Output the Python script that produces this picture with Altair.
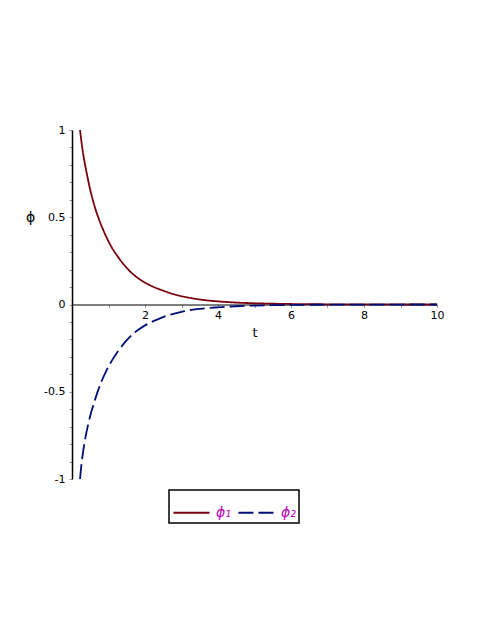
import altair as alt
import pandas as pd

# phi_1 curve
t1 = [0.22, 0.28, 0.35, 0.42, 0.485, 0.55, 0.62, 0.74, 0.85, 1.0, 1.08, 1.25, 1.44, 1.65, 1.9,
      2.2, 2.49, 2.8, 3.18, 3.6, 4.0, 4.5, 5.0, 5.5, 6.0, 7.0, 8.0, 9.0, 10.0]
phi1 = [1.0, 0.90, 0.81, 0.735, 0.67, 0.615, 0.562, 0.488, 0.43, 0.362, 0.330, 0.276, 0.224, 0.178, 0.138,
        0.104, 0.080, 0.058, 0.04, 0.026, 0.018, 0.011, 0.007, 0.0045, 0.0028, 0.0011, 0.0004, 0.00015, 0.00005]

# phi_2 curve
t2 = [0.22, 0.26, 0.30, 0.37, 0.44, 0.53, 0.62, 0.71, 0.80, 0.94, 1.08, 1.28, 1.49, 1.72,
      1.99, 2.28, 2.59, 3.0, 3.41, 4.0, 4.5, 5.0, 6.0, 7.0, 8.0, 9.0, 10.0]
phi2 = [-1.0, -0.915, -0.85, -0.76, -0.69, -0.615, -0.553, -0.495, -0.445, -0.38, -0.326, -0.262, -0.207, -0.160,
        -0.121, -0.091, -0.065, -0.042, -0.027, -0.016, -0.01, -0.006, -0.0024, -0.001, -0.0004, -0.00015, -0.00005]

names = ["\u03d5\u2081", "\u03d5\u2082"]
colors = ["#78000E", "#000E78"]
dashes = [[1, 0], [15, 5]]

x_ticks = list(range(1, 11))
y_ticks = [round(-1 + 0.1 * i, 1) for i in range(21)]

df = pd.concat([
    pd.DataFrame({"t": t1, "phi": phi1, "s": names[0], "o": list(range(len(t1)))}),
    pd.DataFrame({"t": t2, "phi": phi2, "s": names[1], "o": list(range(len(t2)))}),
])

W, H = 365, 349
FONT = "DejaVu Sans"

chart = alt.Chart(df).mark_line(strokeWidth=1.8, interpolate="monotone").encode(
    x=alt.X("t:Q", scale=alt.Scale(domain=[0, 10], nice=False),
            axis=alt.Axis(orient="bottom", offset=-H / 2, values=x_ticks,
                          labelExpr="datum.value % 2 == 0 ? datum.label : ''",
                          labelFlush=False, labelOverlap=False,
                          title="t", titleFont=FONT, titleFontSize=13, titleFontWeight="normal",
                          titleY=32, titleBaseline="alphabetic",
                          domainColor="black", domainWidth=1.2, tickColor="#999999", tickSize=3,
                          labelFont=FONT, labelFontSize=11, labelColor="black", labelPadding=2,
                          grid=False)),
    y=alt.Y("phi:Q", scale=alt.Scale(domain=[-1, 1], nice=False),
            axis=alt.Axis(values=y_ticks, labelFlush=False, labelOverlap=False,
                          labelExpr="datum.value == 1 ? '1' : datum.value == 0.5 ? '0.5' : datum.value == 0 ? '0' : datum.value == -0.5 ? '-0.5' : datum.value == -1 ? '-1' : ''",
                          title="\u03d5", titleFont=FONT, titleFontSize=14, titleFontWeight="normal",
                          titleAngle=0, titleX=-42, titleY=87, titleAlign="center", titleBaseline="middle",
                          domainColor="black", domainWidth=1.5, tickColor="#999999", tickSize=3,
                          labelFont=FONT, labelFontSize=11, labelColor="black", labelPadding=4,
                          grid=False)),
    color=alt.Color("s:N", scale=alt.Scale(domain=names, range=colors), legend=alt.Legend(title=None)),
    strokeDash=alt.StrokeDash("s:N", scale=alt.Scale(domain=names, range=dashes), legend=alt.Legend(title=None)),
    order="o:Q",
).properties(
    width=W, height=H,
    autosize=alt.AutoSizeParams(type="none"),
    padding={"left": 64, "top": 122, "right": 30, "bottom": 100},
).configure_view(stroke=None).configure_legend(
    orient="none", legendX=97, legendY=360, direction="horizontal",
    strokeColor="black", strokeWidth=1.5, padding=3,
    symbolType="stroke", symbolSize=1300, symbolStrokeWidth=2,
    labelFont=FONT, labelFontSize=14, labelFontStyle="italic", labelColor="#C000C0",
    labelOffset=5, columnPadding=3,
)

chart.save("out.html", embed_options={"renderer": "svg", "actions": False})
